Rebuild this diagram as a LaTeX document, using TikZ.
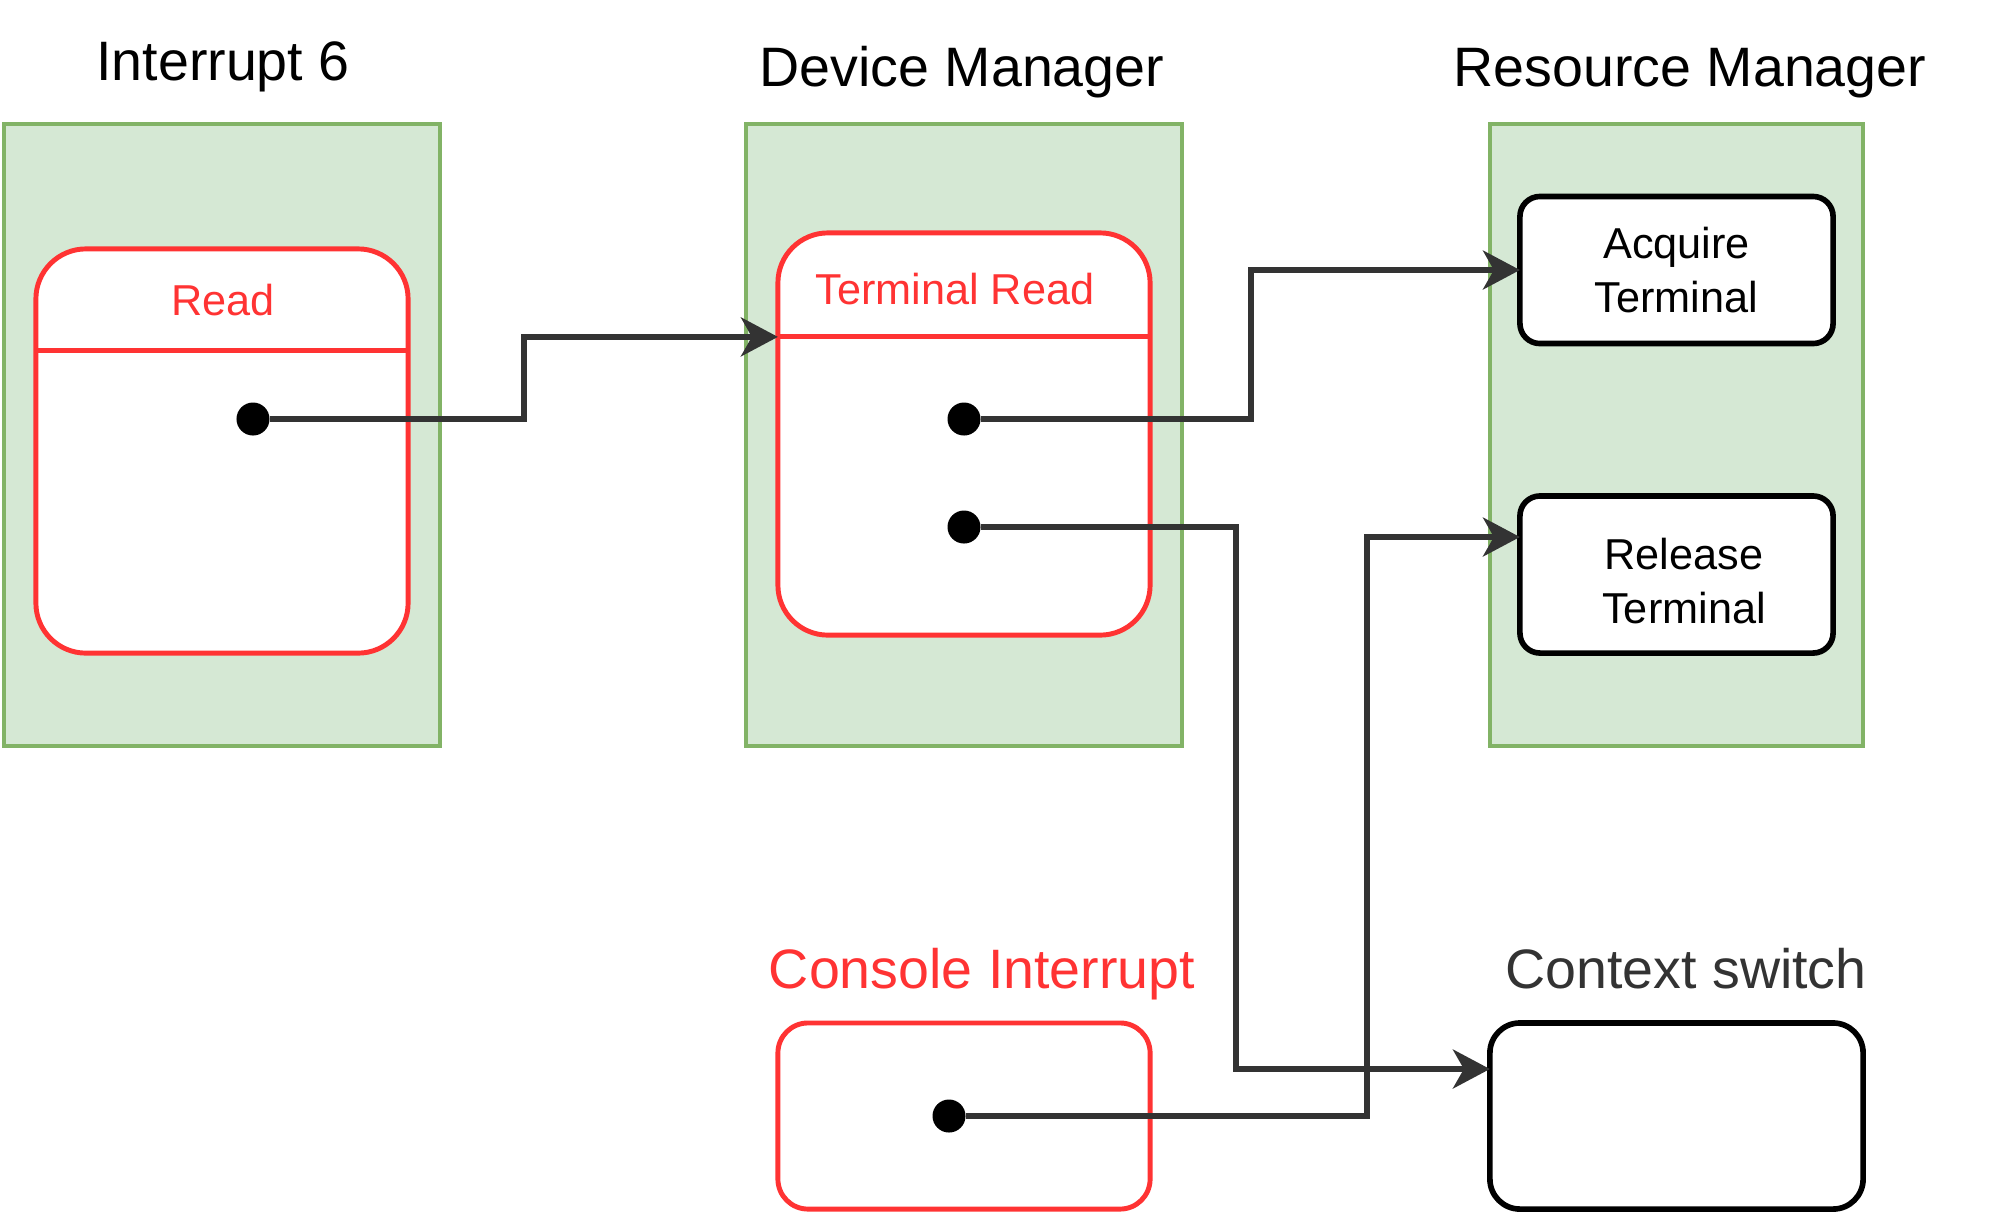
\documentclass[tikz,border=0pt]{standalone}
\usepackage{fontspec}
\setmainfont{Liberation Sans}
\usepackage{tikz}
\usetikzlibrary{arrows.meta, positioning}
\usepackage{xcolor}
\definecolor{lanegreen}{HTML}{D5E8D4}
\definecolor{lanedraw}{HTML}{82B366}
\definecolor{statered}{HTML}{FF3333}
\definecolor{linegray}{HTML}{333333}
\tikzset{
    % Lanes
    lane/.style={rectangle, draw=lanedraw, fill=lanegreen, line width=1.2pt,
                minimum width=#1, minimum height=6.22cm},
    lanetitle/.style={anchor=base, font=\fontsize{15.8}{19}\selectfont},
    % Red states
    statebox/.style={rectangle, rounded corners=#1, draw=statered, fill=white,
                line width=1.4pt, minimum width=3.72cm, outer sep=0pt},
    statelbl/.style={anchor=base, text=statered, font=\fontsize{12.3}{15.6}\selectfont},
    % Resource boxes
    resbox/.style={rectangle, rounded corners=0.2cm, draw=black, fill=white,
                line width=1.6pt, minimum width=#1, align=center, outer sep=0pt,
                font=\fontsize{12.3}{15.6}\selectfont},
    % Connectors
    dot/.style={circle, fill=black, inner sep=0pt, minimum size=0.33cm},
    conn/.style={-{Stealth[length=0.37cm, width=0.39cm, inset=0.11cm]},
                line width=1.5pt, linegray},
}

\begin{document}
\begin{tikzpicture}[x=0.01cm, y=-0.01cm]
\useasboundingbox (0,0) rectangle (2000,1214);

% lanes
\node[lane=4.36cm] (irq)  at (222,435)    {};
\node[lane=4.36cm] (dev)  at (964,435)    {};
\node[lane=3.73cm] (res)  at (1676.5,435) {};

\node[lanetitle] (irqt) at (223,80)  {Interrupt 6};
\node[lanetitle] (devt) at (962,86)  {Device Manager};
\node[lanetitle] (rest) at (1690,86) {Resource Manager};

% states
\node[statebox=0.5cm, minimum height=4.04cm] (rd)  at (222,451) {};
\draw[statered, line width=1.4pt] (rd.north west) ++(0,102) -- ++(372,0);
\node[statelbl] (rdt) at (223,315) {Read};

\node[statebox=0.5cm, minimum height=4.02cm] (trd) at (964,434) {};
\draw[statered, line width=1.4pt] (trd.north west) ++(0,104) coordinate (trdhead) -- ++(372,0);
\node[statelbl] (trdt) at (955,304) {Terminal Read};

\node[resbox=3.13cm, minimum height=1.47cm] (acq) at (1676.5,270)   {Acquire\\Terminal};
\node[resbox=3.13cm, minimum height=1.57cm] (rel) at (1676.5,574.5) {};
\node[align=center, font=\fontsize{12.3}{15.6}\selectfont] (relt) at (1684,581) {Release\\Terminal};

\node[statebox=0.3cm, minimum height=1.86cm] (con) at (964,1116)    {};
\node[resbox=3.73cm, minimum height=1.86cm, rounded corners=0.3cm] (ctx) at (1676.5,1116) {};

\node[lanetitle, text=statered] (cont) at (982,988)  {Console Interrupt};
\node[lanetitle, text=linegray] (ctxt) at (1686,988) {Context switch};

% dots
\node[dot] (rdot)  at (253,419)  {};
\node[dot] (tdot1) at (964,419)  {};
\node[dot] (tdot2) at (964,527)  {};
\node[dot] (cdot)  at (949,1116) {};

\path (ctx.west) ++(0,-47) coordinate (ctxin);
\path (rel.west) ++(0,-37.5) coordinate (relin);

\draw[conn] (rdot)  -- (524,419)  |- (trdhead);
\draw[conn] (tdot1) -- (1251,419) |- (acq.west);
\draw[conn] (tdot2) -- (1236,527) |- (ctxin);
\draw[conn] (cdot)  -- (1367,1116) |- (relin);
\end{tikzpicture}
\end{document}
